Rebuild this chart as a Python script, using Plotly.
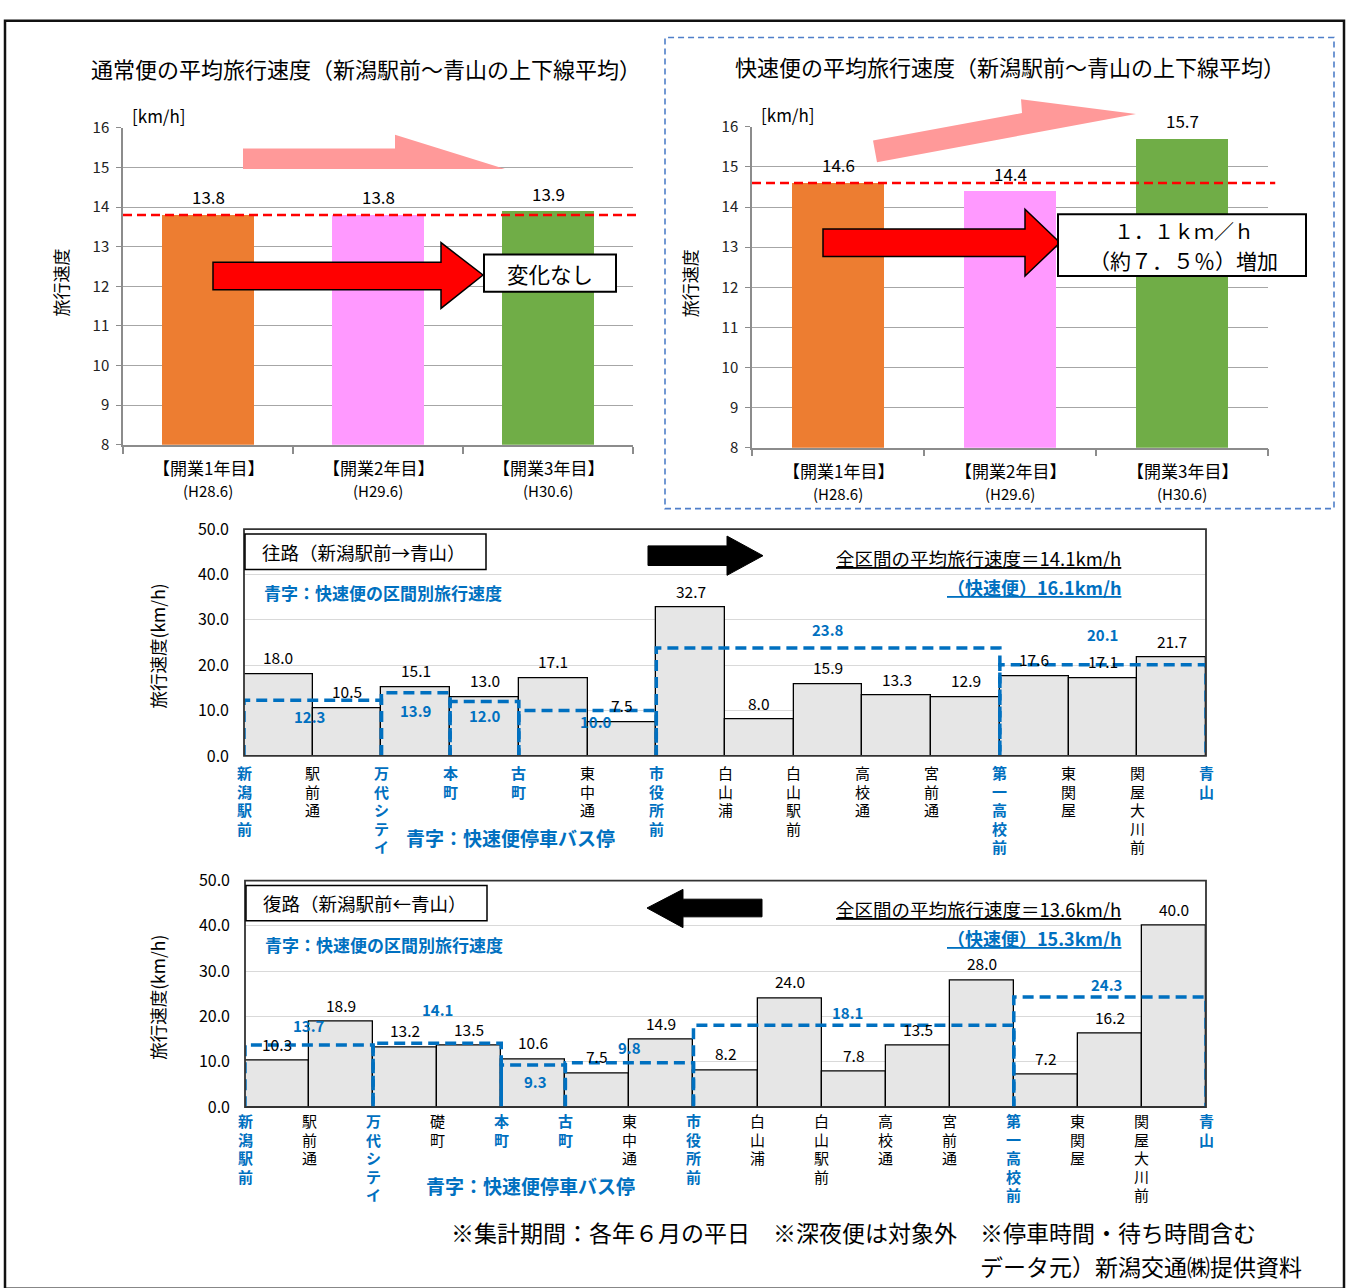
import plotly.graph_objects as go

W, H = 1351, 1288
FONT = "Noto Sans CJK JP"
BLUE = "#0070C0"

# ---------------- data ----------------
year_labels = ["【開業1年目】", "【開業2年目】", "【開業3年目】"]
year_periods = ["(H28.6)", "(H29.6)", "(H30.6)"]
normal_speed = [13.8, 13.8, 13.9]
rapid_speed = [14.6, 14.4, 15.7]
year_colors = ["#ED7D31", "#FF99FF", "#70AD47"]

out_stops = ["新潟駅前", "駅前通", "万代シテイ", "本町", "古町", "東中通", "市役所前",
             "白山浦", "白山駅前", "高校通", "宮前通", "第一高校前", "東関屋", "関屋大川前", "青山"]
out_speed = [18.0, 10.5, 15.1, 13.0, 17.1, 7.5, 32.7, 8.0, 15.9, 13.3, 12.9, 17.6, 17.1, 21.7]
out_rapid_stops = ["新潟駅前", "万代シテイ", "本町", "古町", "市役所前", "第一高校前", "青山"]
out_rapid_speed = [12.3, 13.9, 12.0, 10.0, 23.8, 20.1]
out_avg, out_rapid_avg = 14.1, 16.1

in_stops = ["新潟駅前", "駅前通", "万代シテイ", "礎町", "本町", "古町", "東中通", "市役所前",
            "白山浦", "白山駅前", "高校通", "宮前通", "第一高校前", "東関屋", "関屋大川前", "青山"]
in_speed = [10.3, 18.9, 13.2, 13.5, 10.6, 7.5, 14.9, 8.2, 24.0, 7.8, 13.5, 28.0, 7.2, 16.2, 40.0]
in_rapid_stops = ["新潟駅前", "万代シテイ", "本町", "古町", "市役所前", "第一高校前", "青山"]
in_rapid_speed = [13.7, 14.1, 9.3, 9.8, 18.1, 24.3]
in_avg, in_rapid_avg = 13.6, 15.3


# ---------------- helpers ----------------
def px(x):
    return x / W


def py(y):
    return 1 - y / H


def poly(points):
    return "M " + " L ".join(f"{px(x):.5f},{py(y):.5f}" for x, y in points) + " Z"


fig = go.Figure()
shapes = []
ann = []


def text(x, y, s, size=16, color="#000", xanchor="center", yanchor="middle", **kw):
    ann.append(dict(x=px(x), y=py(y), xref="paper", yref="paper", text=s, showarrow=False,
                    xanchor=xanchor, yanchor=yanchor,
                    font=dict(family=FONT, size=size, color=color), **kw))


# ---------------- top charts: average speed by year ----------------
top_specs = [
    # axis suffix, values, x-domain px, y px (16, 8), title, title centre, label rows y
    ("", normal_speed, (123, 633), (117, 440), "通常便の平均旅行速度（新潟駅前～青山の上下線平均）", (366, 56), (463, 487)),
    ("2", rapid_speed, (752, 1268), (116, 443), "快速便の平均旅行速度（新潟駅前～青山の上下線平均）", (1010, 54), (466, 490)),
]
for sfx, vals, (xl, xr), (yt, yb), title, (tx, ty), (l1, l2) in top_specs:
    xa, ya = "x" + sfx, "y" + sfx
    fig.add_trace(go.Bar(x=[0.5, 1.5, 2.5], y=vals, width=0.54, marker=dict(color=year_colors, line=dict(width=0)),
                         xaxis=xa, yaxis=ya, showlegend=False, hoverinfo="skip"))
    fig.update_layout({
        "xaxis" + sfx: dict(domain=[px(xl), px(xr)], range=[0, 3], anchor=ya, showgrid=False, zeroline=False,
                            showline=True, linecolor="#8C8C8C", linewidth=1.5, showticklabels=False,
                            ticks="", minor=dict(tickvals=[0, 1, 2, 3], ticks="outside", ticklen=7,
                                                 tickcolor="#8C8C8C", tickwidth=1.5)),
        "yaxis" + sfx: dict(domain=[py(yb), py(yt)], range=[8, 16], dtick=1, anchor=xa, showgrid=True,
                            gridcolor="#A6A6A6", gridwidth=1.4, zeroline=False, showline=True,
                            linecolor="#8C8C8C", linewidth=1.5, ticks="outside", ticklen=5,
                            tickcolor="#8C8C8C", ticklabelstandoff=4,
                            tickfont=dict(family=FONT, size=15, color="#222")),
    })
    text(tx, ty, title, size=22)
    text(xl + 7, yt - 13, "[km/h]", size=17, xanchor="left")
    text(xl - 63, (yt + yb) / 2 - 4, "旅行速度", size=17, textangle=-90)
    for i, v in enumerate(vals):
        ann.append(dict(x=i + 0.5, y=v, xref=xa, yref=ya, text=f"{v:.1f}", showarrow=False, yshift=18,
                        yanchor="middle", font=dict(family=FONT, size=17, color="#000")))
        cx = xl + (xr - xl) * (i + 0.5) / 3
        text(cx, l1, year_labels[i], size=17)
        text(cx, l2, year_periods[i], size=15)
    # baseline reference (first-year speed)
    shapes.append(dict(type="line", xref=xa + " domain", yref=ya, x0=0, x1=1.014, y0=vals[0], y1=vals[0],
                       line=dict(color="#FF0000", width=2.5, dash="9px,5px")))

# chart 1 decorations
shapes.append(dict(type="path", xref="paper", yref="paper",
                   path=poly([(243, 138), (395, 138), (395, 124), (505, 159), (243, 159)]),
                   fillcolor="#FF9999", line=dict(width=0)))
shapes.append(dict(type="path", xref="paper", yref="paper",
                   path=poly([(213, 254), (441, 254), (441, 234), (483, 267), (441, 301), (441, 282), (213, 282)]),
                   fillcolor="#FF0000", line=dict(color="#000", width=1.5)))
shapes.append(dict(type="rect", xref="paper", yref="paper", x0=px(484), x1=px(616), y0=py(284), y1=py(246),
                   fillcolor="#FFF", line=dict(color="#000", width=2)))
text(550, 265, "変化なし", size=21.5)

# chart 2 decorations
shapes.append(dict(type="rect", xref="paper", yref="paper", x0=px(665), x1=px(1334), y0=py(505), y1=py(25),
                   line=dict(color="#4F7FC9", width=1.6, dash="6px,4px")))
shapes.append(dict(type="path", xref="paper", yref="paper",
                   path=poly([(873, 130), (1022, 102), (1021, 88), (1136, 103), (877, 152)]),
                   fillcolor="#FF9999", line=dict(width=0)))
shapes.append(dict(type="path", xref="paper", yref="paper",
                   path=poly([(823, 220), (1025, 220), (1025, 200), (1060, 234), (1025, 268), (1025, 248), (823, 248)]),
                   fillcolor="#FF0000", line=dict(color="#000", width=1.5)))
shapes.append(dict(type="rect", xref="paper", yref="paper", x0=px(1058), x1=px(1306), y0=py(268), y1=py(205),
                   fillcolor="#FFF", line=dict(color="#000", width=2)))
text(1184, 222, "１．１ｋｍ／ｈ", size=20)
text(1183, 252, "（約７．５％）増加", size=21)

# vertical stop names: line pitch is 1.3 x the base size, glyphs drawn at STOP_GLYPH
STOP_PITCH, STOP_GLYPH = 18.5, 15


# ---------------- bottom charts: section speeds ----------------
def section_chart(sfx, stops, speed, rapid_stops, rapid_speed, xl, xr, ytop, ybot,
                  rapid_dy, rapid_dx, label_y0, direction, arrow_pts, avg, rapid_avg, note_cx):
    xa, ya = "x" + sfx, "y" + sfx
    n = len(speed)
    fig.add_trace(go.Bar(x=[i + 0.5 for i in range(n)], y=speed, width=1,
                         marker=dict(color="#E6E6E6", line=dict(color="#000", width=1.3)),
                         xaxis=xa, yaxis=ya, showlegend=False, hoverinfo="skip"))
    for k in range(len(rapid_speed)):
        i0, i1 = stops.index(rapid_stops[k]), stops.index(rapid_stops[k + 1])
        v = rapid_speed[k]
        fig.add_trace(go.Scatter(x=[i0, i0, i1, i1], y=[0, v, v, 0], mode="lines", cliponaxis=False,
                                 line=dict(color=BLUE, width=3.5, dash="11px,6px"),
                                 xaxis=xa, yaxis=ya, showlegend=False, hoverinfo="skip"))
        ann.append(dict(x=(i0 + i1) / 2, y=v, xref=xa, yref=ya, text=f"<b>{v:.1f}</b>", showarrow=False,
                        yanchor="middle", yshift=rapid_dy[k], xshift=rapid_dx[k],
                        font=dict(family=FONT, size=15, color=BLUE)))
    for i, v in enumerate(speed):
        ann.append(dict(x=i + 0.5, y=v, xref=xa, yref=ya, text=f"{v:.1f}", showarrow=False, yshift=17,
                        yanchor="middle", font=dict(family=FONT, size=15.5, color="#000")))
    fig.update_layout({
        "xaxis" + sfx: dict(domain=[px(xl), px(xr)], range=[0, n], anchor=ya, showgrid=False, zeroline=False,
                            showline=False, showticklabels=False, ticks=""),
        "yaxis" + sfx: dict(domain=[py(ybot), py(ytop)], range=[0, 50], dtick=10, tickformat=".1f", anchor=xa,
                            showgrid=True, gridcolor="#D9D9D9", gridwidth=1.3, zeroline=False, showline=False,
                            ticks="", ticklabelstandoff=14,
                            tickfont=dict(family=FONT, size=16, color="#000")),
    })
    shapes.append(dict(type="rect", xref=xa + " domain", yref=ya + " domain", x0=0, x1=1, y0=0, y1=1,
                       line=dict(color="#333", width=1.8)))
    # stop names, written vertically under the section boundaries
    for k, name in enumerate(stops):
        rapid = name in rapid_stops
        body = "<br>".join(f"<span style='font-size:{STOP_GLYPH}px'>{ch}</span>" for ch in name)
        ann.append(dict(x=k, y=py(label_y0 - 12), xref=xa, yref="paper", showarrow=False,
                        xanchor="center", yanchor="top",
                        text=f"<b>{body}</b>" if rapid else body,
                        font=dict(family=FONT, size=STOP_PITCH / 1.3, color=BLUE if rapid else "#000")))
    # direction box
    shapes.append(dict(type="rect", xref="paper", yref="paper", x0=px(xl + 1), x1=px(xl + 242),
                       y0=py(ytop + 41), y1=py(ytop + 5), fillcolor="#FFF", line=dict(color="#000", width=1.5)))
    text(xl + 16, ytop + 23, direction, size=18.5, xanchor="left")
    text(xl + 18, ytop + 65, "<b>青字：快速便の区間別旅行速度</b>", size=17, color=BLUE, xanchor="left")
    shapes.append(dict(type="path", xref="paper", yref="paper", path=poly(arrow_pts),
                       fillcolor="#000", line=dict(color="#000", width=1)))
    text(1123, ytop + 29, f"<u>全区間の平均旅行速度＝{avg}km/h</u>", size=18.5, xanchor="right")
    text(1123, ytop + 59, f"<u><b>（快速便）{rapid_avg}km/h</b></u>", size=18, color=BLUE, xanchor="right")
    text(note_cx, label_y0 + 67, "<b>青字：快速便停車バス停</b>", size=19, color=BLUE)
    text(xl - 87, (ytop + ybot) / 2 + 4, "旅行速度(km/h)", size=17.5, textangle=-90)


section_chart("3", out_stops, out_speed, out_rapid_stops, out_rapid_speed, 244, 1206, 526, 757,
              [-16, -18, -14, -11, 18, 30], [-3, 0, 0, 8, 0, 0], 773, "往路（新潟駅前→青山）",
              [(648, 543), (727, 543), (727, 533), (763, 553), (727, 573), (727, 563), (648, 563)],
              out_avg, out_rapid_avg, 510)
section_chart("4", in_stops, in_speed, in_rapid_stops, in_rapid_speed, 245, 1206, 884, 1115,
              [20, 34, -16, 15, 13, 13], [0, 0, 2, 0, -6, -3], 1128, "復路（新潟駅前←青山）",
              [(647, 912), (683, 893), (683, 903), (762, 903), (762, 921), (683, 921), (683, 932)],
              in_avg, in_rapid_avg, 530)

# footnotes
text(853, 1242, "※集計期間：各年６月の平日　※深夜便は対象外　※停車時間・待ち時間含む", size=23)
text(1141, 1277, "データ元）新潟交通㈱提供資料", size=23)

# outer frame
shapes.append(dict(type="rect", xref="paper", yref="paper", x0=px(5), x1=px(1344), y0=py(1300), y1=py(8),
                   line=dict(color="#111", width=2.5)))

fig.update_layout(width=W, height=H, margin=dict(l=0, r=0, t=0, b=0), paper_bgcolor="#FFF",
                  plot_bgcolor="rgba(0,0,0,0)", shapes=shapes, annotations=ann, bargap=0,
                  font=dict(family=FONT))
fig.write_html("out.html")
